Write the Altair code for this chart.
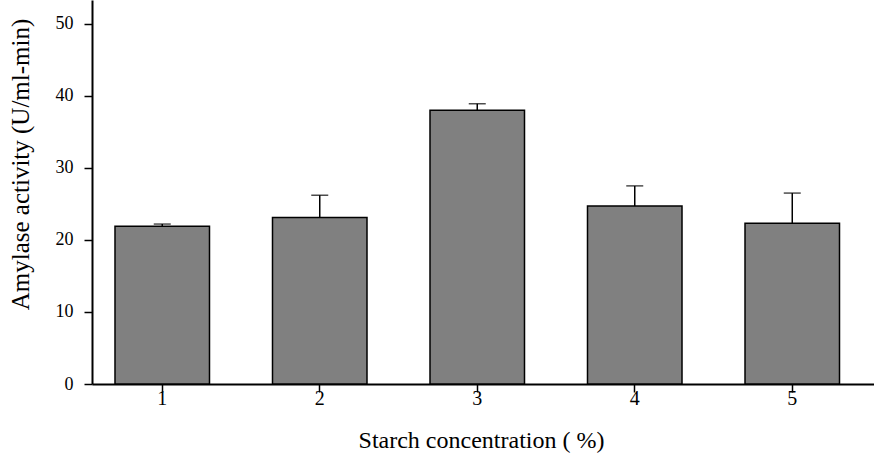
import altair as alt
import pandas as pd

concentration = ["1", "2", "3", "4", "5"]
activity = [21.9, 23.1, 38.0, 24.7, 22.3]
error = [0.3, 3.1, 0.9, 2.8, 4.2]

df = pd.DataFrame({"conc": concentration, "act": activity, "err": error})
df["top"] = df["act"] + df["err"]

FONT = "Liberation Serif"

x_scale = alt.Scale(paddingInner=0.4, paddingOuter=0.1825, align=0.4)
y_scale = alt.Scale(domain=[0, 53.3], nice=False)

x_enc = alt.X(
    "conc:O", scale=x_scale, sort=concentration,
    axis=alt.Axis(
        title="Starch concentration ( %)", labelAngle=0, labelAlign="center",
        labelFont=FONT, labelFontSize=20, labelColor="black", labelPadding=6,
        tickSize=8, tickColor="black", tickWidth=1.5,
        domainColor="black", domainWidth=2,
        titleFont=FONT, titleFontSize=24, titleFontWeight="normal", titleColor="black",
        titleX=389, titleY=56, titleBaseline="middle", titleAlign="center",
    ),
)

bars = alt.Chart(df).mark_bar(
    color="#808080", stroke="black", strokeWidth=1.5
).encode(
    x=x_enc,
    y=alt.Y(
        "act:Q", scale=y_scale,
        axis=alt.Axis(
            title="Amylase activity (U/ml-min)", values=[0, 10, 20, 30, 40, 50],
            labelFont=FONT, labelFontSize=18, labelColor="black", labelPadding=11,
            tickSize=8, tickColor="black", tickWidth=1.5,
            domainColor="black", domainWidth=2, grid=False,
            titleFont=FONT, titleFontSize=25, titleFontWeight="normal", titleColor="black",
            titleX=-72, titleY=164, titleAngle=-90, titleBaseline="middle", titleAlign="center",
        ),
    ),
)

rules = alt.Chart(df).mark_rule(color="black", strokeWidth=1.5).encode(
    x=alt.X("conc:O", scale=x_scale, sort=concentration),
    y=alt.Y("act:Q", scale=y_scale),
    y2="top:Q",
)

caps = alt.Chart(df).mark_tick(color="black", thickness=1.5, size=17).encode(
    x=alt.X("conc:O", scale=x_scale, sort=concentration),
    y=alt.Y("top:Q", scale=y_scale),
)

chart = alt.layer(rules, bars, caps).properties(
    width=782, height=384,
    autosize=alt.AutoSizeParams(type="none"),
    padding={"left": 92, "top": 0, "right": 0, "bottom": 78},
    background="white",
).configure_view(stroke=None)

chart.save("out.html", embed_options={"renderer": "svg", "actions": False})
